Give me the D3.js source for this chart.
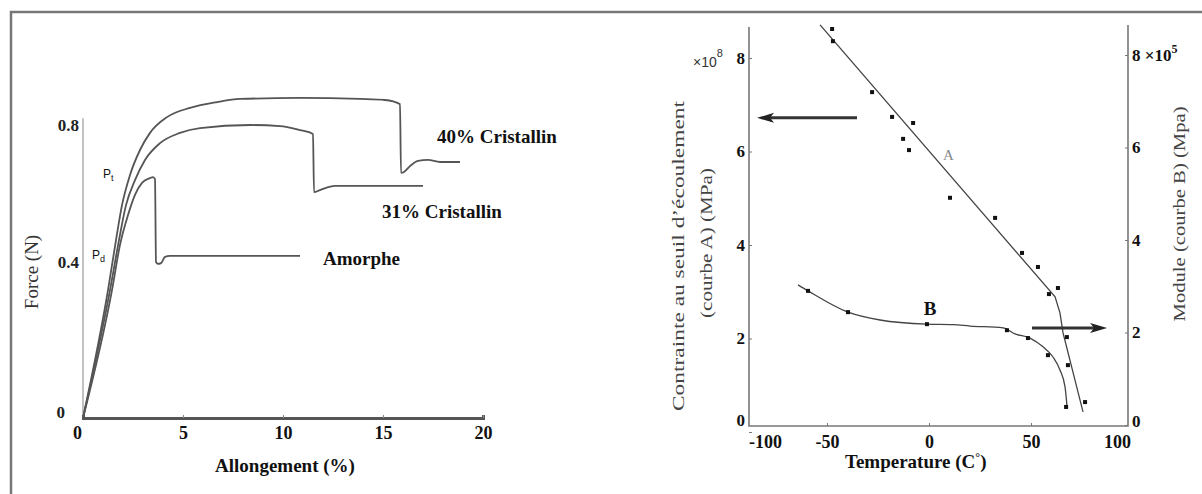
<!DOCTYPE html>
<html>
<head>
<meta charset="utf-8">
<script src="https://cdn.jsdelivr.net/npm/d3@7"></script>
<style>
  body { margin: 0; background: #fff; }
  svg { display: block; }
</style>
</head>
<body>
<div id="chart"></div>
<script>
// ---- left chart: force vs elongation
const strainTicks = [0, 5, 10, 15, 20];
const forceTicks = [0, 0.4, 0.8];

// [elongation %, force N]
const cristallin40 = [[0,0],[1.25,0.328],[1.65,0.464],[1.95,0.566],[2.35,0.654],[2.85,0.727],[3.35,0.777],[4.2,0.823],[5.35,0.85],[6.7,0.867],[7.85,0.876],[10.85,0.879],[13.85,0.876],[15.1,0.873],[15.85,0.861],[15.9,0.66],[16.05,0.663],[16.35,0.68],[16.75,0.695],[17.25,0.698],[17.85,0.692],[18.85,0.692]];
const cristallin31 = [[0,0],[1.35,0.328],[1.8,0.464],[2.15,0.566],[2.6,0.639],[3.1,0.698],[3.85,0.747],[4.85,0.777],[5.85,0.791],[8.35,0.8],[9.85,0.797],[10.85,0.785],[11.5,0.774],[11.55,0.604],[11.85,0.61],[12.6,0.622],[13.35,0.622],[17.0,0.622]];
const amorphe = [[0,0],[1.45,0.328],[1.85,0.45],[2.25,0.537],[2.6,0.596],[2.95,0.631],[3.35,0.645],[3.5,0.648],[3.6,0.642],[3.65,0.4],[3.75,0.395],[3.9,0.397],[4.1,0.415],[4.35,0.418],[10.85,0.418]];

// ---- right chart: stress / modulus vs temperature
const tempTicks = [-100, -50, 0, 50, 100];
const stressTicks = [0, 2, 4, 6, 8];
const moduleTicks = [0, 2, 4, 6, 8];

// curve A : [T, stress x1e8]
const curveALine = [[-53.4,8.71],[61.8,2.89],[64.2,2.55],[65.7,2.12],[75.5,0.43]];
const curveAPoints = [[-47.5,8.62],[-47.1,8.36],[-27.9,7.27],[-18.1,6.74],[-7.8,6.61],[-12.7,6.27],[-9.8,6.03],[10.3,5.01],[32.4,4.58],[45.6,3.83],[53.4,3.53],[58.8,2.95],[63.2,3.08],[67.6,2.03],[68.1,1.43],[76.5,0.64]];
// curve B : [T, module x1e5]
const curveBLine = [[-64.2,3.03],[-59.3,2.9],[-39.7,2.44],[-24,2.27],[-1,2.18],[11.8,2.17],[20.1,2.14],[36.3,2.1],[42.2,1.97],[49.5,1.88],[55.9,1.69],[60.8,1.47],[64.2,1.19],[66.7,0.82],[67.6,0.43]];
const curveBPoints = [[-59.3,2.9],[-39.7,2.44],[-1,2.18],[38.2,2.05],[48.5,1.88],[58.3,1.51],[67.2,0.39]];

var width = 1202, height = 494;
var serif = "'Liberation Serif', 'Times New Roman', serif";
var sans = "'Liberation Sans', Arial, sans-serif";

var svg = d3.select("#chart").append("svg")
  .attr("width", width)
  .attr("height", height);

// frame
svg.append("path")
  .attr("d", "M11,494 V12 H1202")
  .attr("fill", "none")
  .attr("stroke", "#777")
  .attr("stroke-width", 2.5);

// ================= left chart =================
var xL = d3.scaleLinear().domain([0, 20]).range([83, 483]);
// the printed force axis is not evenly spaced, so use a piecewise scale
var yL = d3.scaleLinear().domain([0, 0.4, 0.8]).range([418, 262, 125]);

var left = svg.append("g");

left.append("line")
  .attr("x1", xL(0)).attr("x2", xL(0))
  .attr("y1", yL(0)).attr("y2", yL(0.82))
  .attr("stroke", "#999").attr("stroke-width", 1.2);

var xAxisL = left.append("g")
  .attr("transform", "translate(0," + yL(0) + ")")
  .call(d3.axisBottom(xL).tickValues(strainTicks).tickSize(-3).tickPadding(8));
xAxisL.attr("font-family", serif);
xAxisL.select(".domain").attr("stroke", "#555").attr("stroke-width", 3);
xAxisL.selectAll(".tick line").attr("stroke", "#888");
xAxisL.selectAll(".tick text")
  .attr("font-family", serif)
  .attr("font-size", 18).attr("font-weight", "bold").attr("fill", "#111")
  .attr("dx", function(d){ return d === 0 ? -6 : 0; });

var yAxisL = left.append("g")
  .attr("transform", "translate(" + xL(0) + ",0)")
  .call(d3.axisLeft(yL).tickValues(forceTicks).tickSize(0).tickPadding(5)
    .tickFormat(function(d){ return d === 0 ? "0" : d3.format(".1f")(d); }));
yAxisL.attr("font-family", serif);
yAxisL.select(".domain").remove();
yAxisL.selectAll(".tick text")
  .attr("font-family", serif)
  .attr("font-size", 17).attr("font-weight", "bold").attr("fill", "#222")
  .attr("x", function(d){ return d === 0 ? -18 : -4; })
  .attr("dy", function(d){ return d === 0 ? "-0.05em" : "0.32em"; });

var lineL = d3.line()
  .x(function(d){ return xL(d[0]); })
  .y(function(d){ return yL(d[1]); })
  .curve(d3.curveMonotoneX);

left.selectAll("path.curve")
  .data([cristallin40, cristallin31, amorphe])
  .enter()
  .append("path")
  .attr("class", "curve")
  .attr("d", lineL)
  .attr("fill", "none")
  .attr("stroke", "#555")
  .attr("stroke-width", 1.8);

var curveLabels = [
  { t: "40% Cristallin", x: 17.7, y: 0.747 },
  { t: "31% Cristallin", x: 14.95, y: 0.528 },
  { t: "Amorphe", x: 12.0, y: 0.392 }
];
left.selectAll("text.lab")
  .data(curveLabels)
  .enter()
  .append("text")
  .attr("font-family", serif)
  .attr("x", function(d){ return xL(d.x); })
  .attr("y", function(d){ return yL(d.y); })
  .attr("font-size", 19).attr("font-weight", "bold").attr("fill", "#111")
  .text(function(d){ return d.t; });

// P_t and P_d
[["P", "t", 1.0, 0.645], ["P", "d", 0.45, 0.409]].forEach(function(p){
  var t = left.append("text")
    .attr("x", xL(p[2])).attr("y", yL(p[3]))
    .attr("font-family", sans)
    .attr("font-size", 12).attr("fill", "#111")
    .text(p[0]);
  t.append("tspan").attr("dy", 3).attr("font-size", 9).text(p[1]);
});

left.append("text")
  .attr("font-family", serif)
  .attr("transform", "translate(" + 38 + "," + 272 + ") rotate(-90)")
  .attr("text-anchor", "middle")
  .attr("font-size", 19).attr("fill", "#333")
  .text("Force (N)");

left.append("text")
  .attr("font-family", serif)
  .attr("x", 285).attr("y", 472)
  .attr("text-anchor", "middle")
  .attr("font-size", 19).attr("font-weight", "bold").attr("fill", "#111")
  .text("Allongement (%)");

// ================= right chart =================
var xR = d3.scaleLinear().domain([-100, 100]).range([725, 1133]);
var yA = d3.scaleLinear().domain([0, 8]).range([432, 58]);
var yB = d3.scaleLinear().domain([0, 8]).range([425, 55]);

var right = svg.append("g");
var axisColor = "#777";
var axLeftX = 749, axRightX = 1128, axBottomY = 426;

right.append("path")
  .attr("d", "M" + axLeftX + ",27 V" + axBottomY + " H" + axRightX + " V25")
  .attr("fill", "none")
  .attr("stroke", axisColor).attr("stroke-width", 1.6);

var xAxisR = right.append("g")
  .attr("transform", "translate(0," + axBottomY + ")")
  .call(d3.axisBottom(xR).tickValues(tempTicks).tickSize(-3).tickPadding(9));
xAxisR.attr("font-family", serif);
xAxisR.select(".domain").remove();
xAxisR.selectAll(".tick line")
  .attr("stroke", axisColor)
  .attr("opacity", function(d){ return Math.abs(d) === 100 ? 0 : 1; });
xAxisR.selectAll(".tick text")
  .attr("font-family", serif)
  .attr("font-size", 18).attr("font-weight", "bold").attr("fill", "#111")
  .attr("dx", function(d){ return d === -100 ? 40 : (d === 100 ? -16 : 0); })
  .text(function(d){ return d < 0 ? "-" + Math.abs(d) : d; });

var yAxisA = right.append("g")
  .attr("transform", "translate(" + axLeftX + ",0)")
  .call(d3.axisLeft(yA).tickValues(stressTicks).tickSize(-3).tickPadding(4));
yAxisA.attr("font-family", serif);
yAxisA.select(".domain").remove();
yAxisA.selectAll(".tick line").attr("stroke", axisColor);
yAxisA.selectAll(".tick text")
  .attr("font-family", serif)
  .attr("x", -4)
  .attr("font-size", 17).attr("font-weight", "bold").attr("fill", "#111")
  .attr("dy", function(d){ return d === 0 ? "-0.4em" : "0.32em"; });

var yAxisB = right.append("g")
  .attr("transform", "translate(" + axRightX + ",0)")
  .call(d3.axisRight(yB).tickValues(moduleTicks).tickSize(-3).tickPadding(4));
yAxisB.attr("font-family", serif);
yAxisB.select(".domain").remove();
yAxisB.selectAll(".tick line").attr("stroke", axisColor);
yAxisB.selectAll(".tick text")
  .attr("font-family", serif)
  .attr("x", 4)
  .attr("font-size", 17).attr("font-weight", "bold").attr("fill", "#111")
  .attr("dy", function(d){ return d === 0 ? "0.1em" : "0.32em"; })
  .each(function(d){
    if (d === 8) {
      var t = d3.select(this).text("8 \u00d710");
      t.append("tspan").attr("dy", -8).attr("font-size", 12).text("5");
    }
  });

// x10^8 next to left axis
var mult = right.append("text")
  .attr("x", xR(-115.7)).attr("y", yA(7.81))
  .attr("font-family", sans)
  .attr("font-size", 14).attr("fill", "#333")
  .text("\u00d710");
mult.append("tspan").attr("dy", -10).attr("font-size", 11).text("8");

var lineA = d3.line()
  .x(function(d){ return xR(d[0]); })
  .y(function(d){ return yA(d[1]); });
var lineB = d3.line()
  .x(function(d){ return xR(d[0]); })
  .y(function(d){ return yB(d[1]); })
  .curve(d3.curveMonotoneX);

right.append("path")
  .attr("d", lineA(curveALine))
  .attr("fill", "none").attr("stroke", "#444").attr("stroke-width", 1.3);
right.append("path")
  .attr("d", lineB(curveBLine))
  .attr("fill", "none").attr("stroke", "#444").attr("stroke-width", 1.3);

right.selectAll("rect.ptA")
  .data(curveAPoints)
  .enter()
  .append("rect")
  .attr("class", "ptA")
  .attr("x", function(d){ return xR(d[0]) - 2; })
  .attr("y", function(d){ return yA(d[1]) - 2; })
  .attr("width", 4).attr("height", 4)
  .attr("fill", "#111");

right.selectAll("rect.ptB")
  .data(curveBPoints)
  .enter()
  .append("rect")
  .attr("class", "ptB")
  .attr("x", function(d){ return xR(d[0]) - 2; })
  .attr("y", function(d){ return yB(d[1]) - 2; })
  .attr("width", 4).attr("height", 4)
  .attr("fill", "#111");

right.append("text")
  .attr("font-family", serif)
  .attr("x", xR(6.9)).attr("y", yA(5.82))
  .attr("font-size", 15).attr("fill", "#888")
  .text("A");
right.append("text")
  .attr("font-family", serif)
  .attr("x", xR(0.5)).attr("y", yB(2.38))
  .attr("text-anchor", "middle")
  .attr("font-size", 19).attr("font-weight", "bold").attr("fill", "#111")
  .text("B");

// arrows
function arrow(x1, x2, y) {
  var dir = x2 < x1 ? 1 : -1;
  right.append("line")
    .attr("x1", x1).attr("x2", x2 + dir * 10)
    .attr("y1", y).attr("y2", y)
    .attr("stroke", "#333").attr("stroke-width", 3);
  right.append("path")
    .attr("d", "M" + x2 + "," + y + " L" + (x2 + dir * 17) + "," + (y - 5) +
      " L" + (x2 + dir * 13) + "," + y + " L" + (x2 + dir * 17) + "," + (y + 5) + " Z")
    .attr("fill", "#222");
}
arrow(xR(-35.3), xR(-84.3), yA(6.72));
arrow(xR(50.5), xR(87.3), yB(2.1));

// axis titles
right.append("text")
  .attr("font-family", serif)
  .attr("transform", "translate(684,256) rotate(-90)")
  .attr("text-anchor", "middle")
  .attr("font-size", 17).attr("fill", "#444")
  .attr("textLength", 310).attr("lengthAdjust", "spacingAndGlyphs")
  .text("Contrainte au seuil d\u2019\u00e9coulement");
right.append("text")
  .attr("font-family", serif)
  .attr("transform", "translate(712,243) rotate(-90)")
  .attr("text-anchor", "middle")
  .attr("font-size", 17).attr("fill", "#444")
  .attr("textLength", 150).attr("lengthAdjust", "spacingAndGlyphs")
  .text("(courbe A) (MPa)");
right.append("text")
  .attr("font-family", serif)
  .attr("transform", "translate(1185,214) rotate(-90)")
  .attr("text-anchor", "middle")
  .attr("font-size", 17).attr("fill", "#444")
  .attr("textLength", 215).attr("lengthAdjust", "spacingAndGlyphs")
  .text("Module (courbe B) (Mpa)");

var tt = right.append("text")
  .attr("font-family", serif)
  .attr("x", 845).attr("y", 468)
  .attr("font-size", 19).attr("font-weight", "bold").attr("fill", "#111")
  .text("Temperature  (C");
tt.append("tspan").attr("dy", -7).attr("font-size", 12).text("\u00b0");
tt.append("tspan").attr("dy", 7).text(")");
</script>
</body>
</html>
